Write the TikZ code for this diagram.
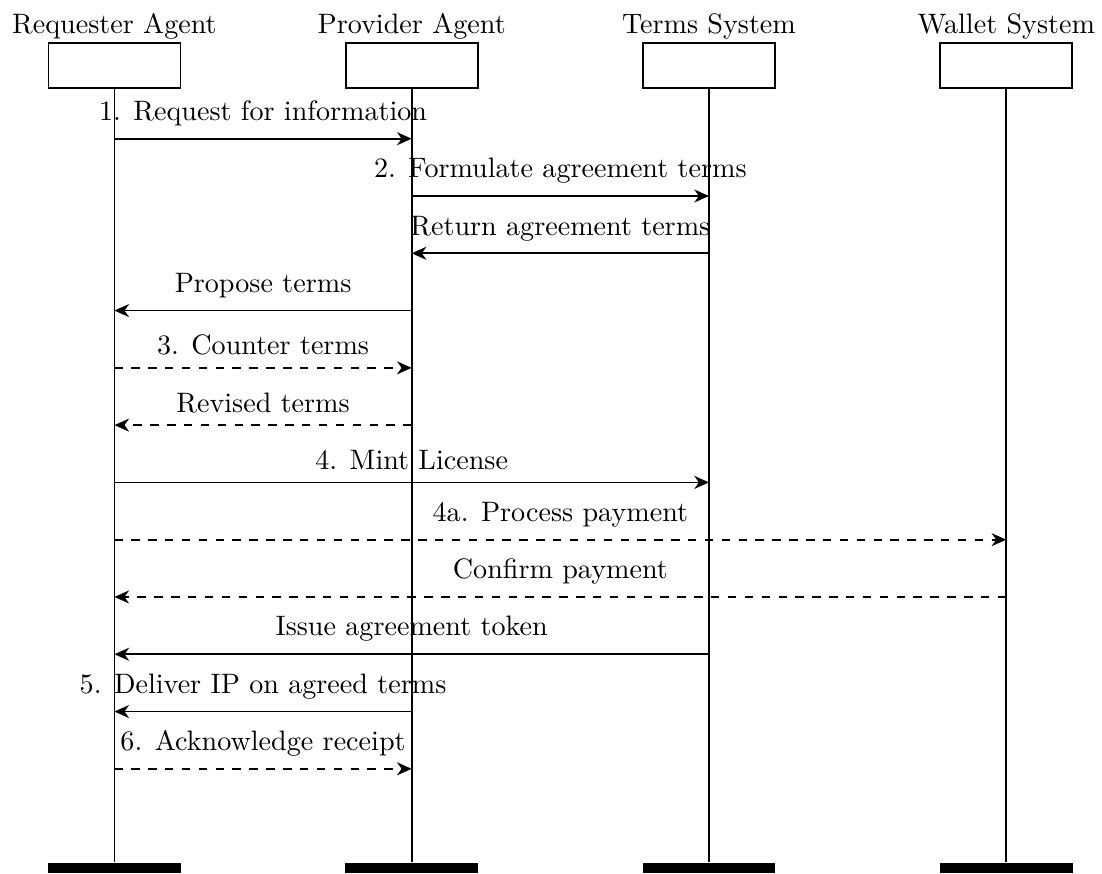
\documentclass[tikz,border=0pt]{standalone}
\usetikzlibrary{positioning,arrows.meta}

\tikzset{
  inst/.style={draw, semithick, minimum width=1.65cm, minimum height=0.559cm, inner sep=0pt},
  instend/.style={fill=black, minimum width=1.66cm, minimum height=0.125cm, inner sep=0pt},
  instname/.style={anchor=base},
  lifeline/.style={semithick},
  msg/.style={semithick, -{Stealth[length=5.2pt, width=4.6pt, inset=1.6pt]}},
  reply/.style={msg, dashed},
}

% \mess[style]{y}{from}{to}{label}
\newcommand{\mess}[5][msg]{%
  \draw[#1] (#3 |- 0,#2) -- node[above=0.8pt] {#5} (#4 |- 0,#2);}

\begin{document}
\begin{tikzpicture}
    \useasboundingbox (0,0) rectangle (13.775,-10.9125);

    % instances
    \node[inst] (req) at (1.43,-0.8206) {};
    \node[inst, right=2.045cm of req] (prov) {};
    \node[inst, right=2.045cm of prov] (terms) {};
    \node[inst, right=2.045cm of terms] (wallet) {};

    \node[above=3.3pt of req, instname] (reqname) {Requester Agent};
    \node[above=3.3pt of prov, instname] (provname) {Provider Agent};
    \node[above=3.3pt of terms, instname] (termsname) {Terms System};
    \node[above=3.3pt of wallet, instname] (walletname) {Wallet System};

    % ends of the lifelines
    \node[instend] (reqend) at (req |- 0,-10.85) {};
    \node[instend] (provend) at (prov |- 0,-10.85) {};
    \node[instend] (termsend) at (terms |- 0,-10.85) {};
    \node[instend] (walletend) at (wallet |- 0,-10.85) {};

    \foreach \i in {req,prov,terms,wallet}
      \draw[lifeline] (\i) -- (\i end);

    % messages
    \mess{-1.734}{req}{prov}{1. Request for information}
    \mess{-2.450}{prov}{terms}{2. Formulate agreement terms}
    \mess{-3.166}{terms}{prov}{Return agreement terms}
    \mess{-3.882}{prov}{req}{Propose terms}
    \mess[reply]{-4.598}{req}{prov}{3. Counter terms}
    \mess[reply]{-5.314}{prov}{req}{Revised terms}
    \mess{-6.030}{req}{terms}{4. Mint License}
    \mess[reply]{-6.746}{req}{wallet}{4a. Process payment}
    \mess[reply]{-7.462}{wallet}{req}{Confirm payment}
    \mess{-8.178}{terms}{req}{Issue agreement token}
    \mess{-8.894}{prov}{req}{5. Deliver IP on agreed terms}
    \mess[reply]{-9.610}{req}{prov}{6. Acknowledge receipt}
\end{tikzpicture}
\end{document}
